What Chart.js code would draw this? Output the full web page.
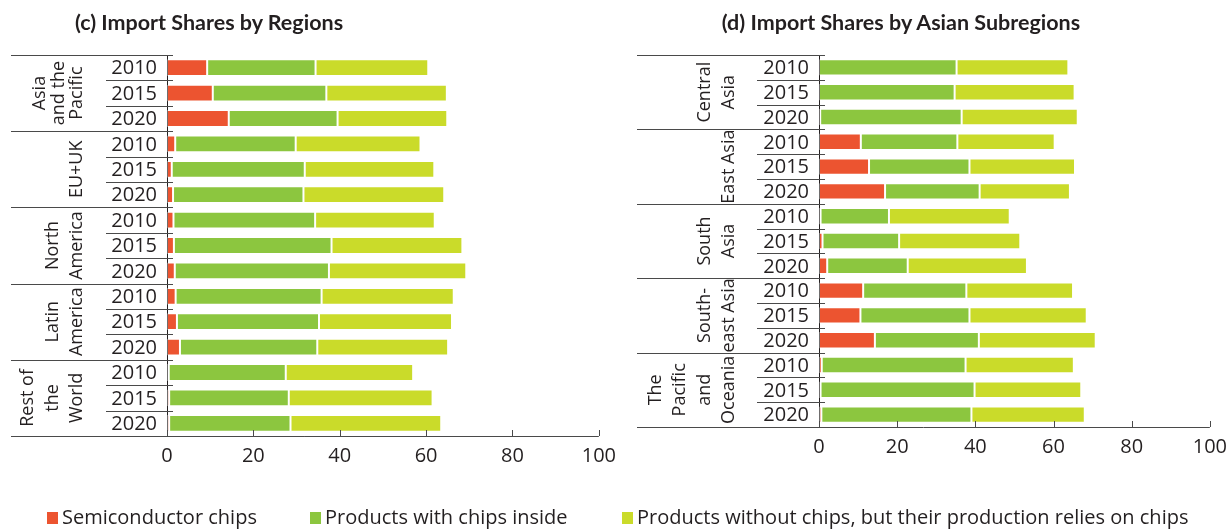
<!DOCTYPE html>
<html>
<head>
<meta charset="utf-8">
<title>Import Shares</title>
<script src="https://cdn.jsdelivr.net/npm/chart.js@4.4.1/dist/chart.umd.min.js"></script>
<style>
  body { margin: 0; background: #fff; }
  #wrap { position: relative; width: 1228px; height: 529px; overflow: hidden; color: #231f20; }
  .panel { position: absolute; top: 0; height: 529px; }
  .title { position: absolute; top: 9px; font: bold 21.5px Lato, sans-serif; line-height: 26px; white-space: nowrap; transform: translateX(-50%); }
  .key { position: absolute; top: 512px; width: 11px; height: 12px; }
  .keytext { position: absolute; top: 505px; font: 20px "Open Sans", sans-serif; line-height: 24px; white-space: nowrap; }
</style>
</head>
<body>
<div id="wrap">
  <div class="panel" style="left:0; width:624px"><canvas id="chart_regions"></canvas></div>
  <div class="panel" style="left:614px; width:621px"><canvas id="chart_asia"></canvas></div>
  <div class="title" style="left:209px">(c) Import Shares by Regions</div>
  <div class="title" style="left:901px">(d) Import Shares by Asian Subregions</div>
  <div id="legend"></div>
</div>
<script>
const years = ["2010", "2015", "2020"];
const seriesNames = [
  "Semiconductor chips",
  "Products with chips inside",
  "Products without chips, but their production relies on chips",
];
const seriesColors = ["#ec5430", "#8cc63f", "#cadb2a"];
const xTicks = [0, 20, 40, 60, 80, 100];

// (c) regions, three years each
const regionGroups = [["Asia", "and the", "Pacific"], ["EU+UK"], ["North", "America"], ["Latin", "America"], ["Rest of", "the", "World"]];
const regionChips = [9.3, 10.6, 14.3, 1.9, 1.1, 1.4, 1.5, 1.6, 1.8, 2.0, 2.3, 3.0, 0.4, 0.5, 0.5];
const regionWithChips = [25.1, 26.3, 25.2, 27.9, 30.8, 30.2, 32.8, 36.5, 35.7, 33.8, 32.9, 31.8, 27.1, 27.7, 28.1];
const regionReliant = [26.1, 27.9, 25.4, 28.9, 30.0, 32.6, 27.7, 30.3, 31.8, 30.6, 30.8, 30.3, 29.5, 33.3, 34.9];

// (d) Asian subregions
const asiaGroups = [["Central", "Asia"], ["East Asia"], ["South", "Asia"], ["South-", "east Asia"], ["The", "Pacific", "and", "Oceania"]];
const asiaChips = [0, 0, 0.3, 10.7, 12.8, 16.9, 0.4, 0.9, 2.1, 11.3, 10.6, 14.3, 0.7, 0.4, 0.6];
const asiaWithChips = [35.2, 34.7, 36.2, 24.7, 25.7, 24.2, 17.5, 19.6, 20.6, 26.4, 27.9, 26.6, 36.8, 39.4, 38.4];
const asiaReliant = [28.6, 30.7, 29.7, 24.9, 27.0, 23.1, 30.9, 31.0, 30.5, 27.3, 30.0, 29.9, 27.7, 27.3, 29.0];

const ink = "#231f20";

// row labels, group labels and separator lines to the left of the bars
const rowTable = {
  id: "rowTable",
  afterDraw(chart, args, opts) {
    const { ctx, chartArea: a, scales: { x, y } } = chart;
    const n = chart.data.labels.length;
    const axisX = x.getPixelForValue(0);
    const edge = axisX + 6;
    const rowEdge = (i) => i === 0 ? a.top : i === n ? a.bottom : (y.getPixelForValue(i - 1) + y.getPixelForValue(i)) / 2;
    const hline = (yy, x0, x1) => {
      const py = Math.round(yy) + 0.5;
      ctx.beginPath();
      ctx.moveTo(x0, py);
      ctx.lineTo(x1, py);
      ctx.stroke();
    };

    ctx.save();
    ctx.strokeStyle = "#4a4a4a";
    ctx.lineWidth = 1;
    ctx.fillStyle = ink;

    let row = 0;
    opts.groups.forEach((lines, gi) => {
      const count = years.length;
      hline(rowEdge(row), opts.groupLeft, edge);
      for (let k = 1; k < count; k++) hline(rowEdge(row + k), opts.yearLeft, edge);

      ctx.font = '20px "Open Sans"';
      ctx.textAlign = "right";
      ctx.textBaseline = "middle";
      for (let k = 0; k < count; k++) {
        ctx.fillText(chart.data.labels[row + k], axisX - 10, y.getPixelForValue(row + k) + 1);
      }

      // rotated group name, last line nearest the years
      const mid = (rowEdge(row) + rowEdge(row + count)) / 2;
      const gap = (opts.lineGap && opts.lineGap[gi]) || 24.5;
      ctx.save();
      ctx.translate(axisX - 85, mid);
      ctx.rotate(-Math.PI / 2);
      ctx.font = '18px "Open Sans"';
      ctx.textAlign = "center";
      ctx.textBaseline = "alphabetic";
      lines.forEach((t, i) => ctx.fillText(t, 0, -(lines.length - 1 - i) * gap));
      ctx.restore();

      row += count;
    });

    // bottom rule runs under the table and along the x axis
    hline(a.bottom, opts.groupLeft, a.right);

    // short tick marks pointing up into the plot
    ctx.beginPath();
    x.ticks.forEach((t) => {
      const px = Math.round(x.getPixelForValue(t.value)) + 0.5;
      ctx.moveTo(px, a.bottom - 6);
      ctx.lineTo(px, a.bottom);
    });
    ctx.stroke();
    ctx.restore();
  },
};

function makePanel(id, groups, chips, inside, reliant, pad, table) {
  const labels = [];
  groups.forEach(() => years.forEach((yr) => labels.push(yr)));
  const values = [chips, inside, reliant];

  return new Chart(document.getElementById(id), {
    type: "bar",
    data: {
      labels: labels,
      datasets: values.map((d, i) => ({
        label: seriesNames[i],
        data: d,
        backgroundColor: seriesColors[i],
        borderColor: "rgba(255,255,255,0.35)",
        borderWidth: 1,
        borderSkipped: false,
        barPercentage: 0.66,
        categoryPercentage: 1,
      })),
    },
    options: {
      indexAxis: "y",
      responsive: true,
      maintainAspectRatio: false,
      devicePixelRatio: 1,
      animation: false,
      layout: { padding: pad },
      plugins: {
        legend: { display: false },
        tooltip: { enabled: false },
        rowTable: table,
      },
      scales: {
        x: {
          stacked: true,
          min: 0,
          max: 100,
          afterBuildTicks: (axis) => { axis.ticks = xTicks.map((v) => ({ value: v })); },
          grid: { display: false, drawTicks: false },
          border: { display: false },
          ticks: { color: ink, padding: 8, font: { family: "Open Sans", size: 20 } },
        },
        y: {
          stacked: true,
          grid: { display: false, drawTicks: false },
          border: { display: true, color: ink, width: 1 },
          ticks: { display: false },
        },
      },
    },
    plugins: [rowTable],
  });
}

makePanel("chart_regions", regionGroups, regionChips, regionWithChips, regionReliant,
  { left: 167, right: 0, top: 55, bottom: 53 },
  { groups: regionGroups, groupLeft: 11, yearLeft: 106, lineGap: [18.5] });

makePanel("chart_asia", asiaGroups, asiaChips, asiaWithChips, asiaReliant,
  { left: 205, right: 0, top: 55, bottom: 62 },
  { groups: asiaGroups, groupLeft: 23, yearLeft: 143 });

// shared legend under both panels
const keyLeft = [47, 310, 622];
const legend = document.getElementById("legend");
seriesNames.forEach((name, i) => {
  const sw = document.createElement("div");
  sw.className = "key";
  sw.style.left = keyLeft[i] + "px";
  sw.style.background = seriesColors[i];
  legend.appendChild(sw);
  const tx = document.createElement("div");
  tx.className = "keytext";
  tx.style.left = (keyLeft[i] + 15) + "px";
  tx.textContent = name;
  legend.appendChild(tx);
});
</script>
</body>
</html>
